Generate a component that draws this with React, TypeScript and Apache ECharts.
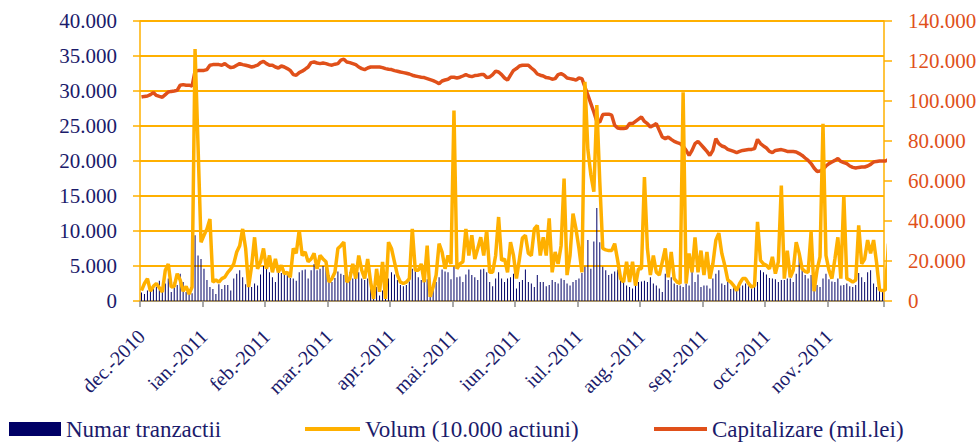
import React, { useEffect, useRef } from "react";
import * as echarts from "echarts";

// Tick labels (one per month, a tick every 21 trading days)
const monthLabels = [
  "dec.-2010", "ian.-2011", "feb.-2011", "mar.-2011", "apr.-2011", "mai.-2011",
  "iun.-2011", "iul.-2011", "aug.-2011", "sep.-2011", "oct.-2011", "nov.-2011",
];
const monthStarts: [number, number][] = [
  [2010, 11], [2011, 0], [2011, 1], [2011, 2], [2011, 3], [2011, 4],
  [2011, 5], [2011, 6], [2011, 7], [2011, 8], [2011, 9], [2011, 10],
];
const closedDays = ["2010-12-01", "2011-04-25", "2011-06-13", "2011-08-15"];
const daysPerMonth = 21;

// Numar tranzactii (per trading day, grouped by month)
const numarTranzactii: number[][] = [
  [1200, 1000, 1500, 1500, 2200, 2000, 2900, 1800, 2500, 3200, 1300, 2700, 2300, 3900, 2700, 1300, 1300, 1100, 9400, 6500, 6000],
  [4600, 3000, 2000, 1700, 1000, 2400, 1700, 2300, 2300, 1500, 3200, 3900, 4400, 3400, 2400, 2000, 2000, 2500, 2200, 3800, 5000],
  [4600, 4100, 3400, 2700, 4100, 4000, 3900, 3800, 3300, 3200, 2900, 4100, 4400, 4500, 3200, 4400, 5300, 4400, 4600, 5000, 5200],
  [3700, 2700, 3300, 4200, 3900, 3700, 2700, 4100, 3200, 4100, 4100, 3200, 3000, 3200, 2500, 1500, 2000, 800, 1500, 2200, 3200],
  [4100, 3800, 3000, 2300, 2100, 2300, 2800, 4600, 5600, 3400, 3000, 2900, 3100, 2500, 2200, 2700, 3400, 4500, 4200, 4100, 3100],
  [4900, 3400, 3500, 2700, 3800, 4500, 3700, 3400, 3000, 4500, 4600, 4100, 2700, 2100, 3200, 4100, 3200, 2700, 3200, 3400, 3900],
  [1800, 2700, 3000, 4500, 2700, 2500, 2000, 3700, 2700, 2700, 2100, 2300, 3000, 2700, 2500, 3200, 3000, 2500, 2200, 2700, 3000],
  [3200, 4000, 4900, 8700, 4600, 8500, 13300, 8400, 4900, 4400, 3700, 3900, 4200, 4500, 3400, 2700, 2200, 2000, 1800, 2200, 2700],
  [2800, 2900, 2700, 3400, 2500, 2200, 1800, 1300, 3900, 3000, 3400, 2500, 2300, 2200, 2000, 2500, 2200, 4400, 2700, 3800, 2000],
  [2200, 2200, 1800, 3200, 3900, 4400, 2500, 2300, 2700, 1700, 2100, 1500, 2000, 2200, 2500, 2100, 1800, 2000, 2700, 4400, 4100],
  [3800, 3300, 3200, 3100, 2700, 3000, 3000, 3200, 3200, 2700, 3900, 7000, 4400, 3700, 3200, 3700, 2200, 2300, 2000, 3200, 3900],
  [3100, 2800, 2700, 3200, 2200, 2300, 2500, 2100, 2000, 2300, 4000, 3400, 2700, 4100, 4400, 2500, 2000, 1800, 1300, 1700, 2000],
];

// Volum (10.000 actiuni)
const volum: number[][] = [
  [1500, 2500, 3200, 1400, 2100, 2500, 1900, 1300, 4400, 5300, 2000, 2100, 3900, 3000, 1400, 2100, 1000, 2000, 36000, 22200, 8400],
  [9400, 10300, 11700, 2700, 3000, 2700, 3200, 3400, 4100, 4600, 5300, 7000, 7900, 10300, 7500, 2000, 5000, 9100, 4600, 5600, 7500],
  [4600, 6500, 4100, 6000, 4100, 5100, 3900, 4100, 3400, 7500, 6800, 10100, 6500, 7000, 5600, 6000, 6800, 4600, 6500, 6000, 5600],
  [2700, 3200, 4100, 7500, 7900, 8400, 2700, 3200, 5300, 3200, 6500, 4400, 3200, 6000, 2700, 300, 4600, 1300, 5600, 300, 8400],
  [7500, 5600, 3700, 2700, 2500, 2700, 3200, 10300, 4400, 4400, 5300, 2700, 7900, 600, 2000, 3700, 8200, 7000, 4600, 6500, 5300],
  [27200, 4600, 5300, 5600, 10300, 6500, 9400, 6000, 7500, 9100, 6500, 10100, 4100, 4100, 6500, 12000, 5800, 6000, 4100, 8400, 6500],
  [3200, 6000, 9000, 9400, 6800, 6500, 10300, 10800, 6500, 9100, 6500, 11800, 4100, 7000, 5300, 7900, 17500, 3700, 6500, 12500, 10300],
  [7500, 4100, 31300, 21600, 18000, 15600, 28000, 17000, 7500, 7300, 7200, 7200, 8200, 5800, 3200, 2700, 5600, 2700, 5600, 2200, 4600],
  [4600, 17700, 7500, 3700, 6500, 4100, 3700, 5600, 7500, 3400, 7000, 3200, 2700, 2500, 29800, 2500, 6800, 4100, 9100, 4100, 7200],
  [3700, 7000, 3200, 5300, 8700, 9700, 6800, 5100, 3000, 2700, 2200, 1500, 2500, 3200, 3200, 2500, 2000, 2200, 11300, 5800, 5300],
  [5100, 4600, 6300, 3900, 5600, 16500, 3200, 7200, 3400, 4400, 8400, 6800, 4600, 4200, 4100, 9900, 1400, 4400, 6300, 25300, 6500],
  [4400, 3200, 6000, 9100, 3200, 15100, 3200, 3000, 2700, 3000, 10800, 5300, 6000, 8700, 6800, 8700, 5500, 1600, 1500, 1600, 8200],
];

// Capitalizare (mil.lei)
const capitalizare: number[][] = [
  [102000, 102300, 102500, 103200, 104200, 102800, 102300, 101900, 103200, 104500, 104800, 105000, 105300, 107900, 108200, 107900, 107900, 107400, 114900, 115200, 115300],
  [115300, 115700, 117900, 118200, 118200, 118200, 117900, 118700, 117500, 116700, 117000, 117900, 118700, 118200, 117900, 117500, 117000, 117400, 117900, 119200, 119800],
  [118700, 117900, 117900, 117000, 116500, 117500, 117000, 116200, 115300, 113200, 112900, 114200, 114900, 115900, 117000, 119200, 119500, 119000, 118700, 119000, 118700],
  [118200, 117900, 118400, 118700, 120400, 120900, 119500, 119200, 118700, 118200, 117000, 116200, 115700, 116500, 117000, 117000, 117000, 117000, 116700, 116200, 115900],
  [115700, 115200, 114900, 114500, 114200, 113900, 113500, 112900, 112500, 112200, 111900, 111700, 111200, 110700, 110200, 109500, 108700, 110000, 110500, 110900, 111900],
  [111900, 111500, 111900, 112500, 113200, 112500, 112200, 112700, 112900, 113200, 113200, 111700, 112000, 113200, 114900, 114500, 113200, 111500, 110400, 112900, 115300],
  [116200, 117500, 117900, 117900, 117900, 116500, 115300, 113500, 112900, 112500, 111700, 111500, 110900, 111200, 113200, 113700, 112900, 111500, 111200, 110900, 110400],
  [111500, 111200, 107000, 102900, 98700, 94500, 89800, 89500, 93200, 93400, 93400, 92900, 87900, 86500, 86200, 86200, 86500, 88700, 88700, 89800, 90900],
  [92000, 89800, 88700, 87000, 87800, 88700, 85300, 82000, 81200, 82000, 80800, 79800, 79200, 78700, 77300, 75300, 72800, 75300, 78700, 79800, 78200],
  [76500, 74800, 72800, 75300, 81200, 78700, 77500, 77000, 75800, 75300, 74800, 74200, 74800, 75300, 75500, 75700, 75800, 76200, 80800, 78700, 77500],
  [76500, 74800, 74200, 75300, 75500, 75700, 75300, 74800, 74800, 74700, 74500, 73700, 72800, 71500, 70300, 68700, 66500, 64800, 65000, 65800, 67500],
  [68700, 69500, 70300, 71200, 69800, 69200, 68700, 67500, 66800, 66500, 66800, 67000, 67000, 67500, 68300, 69500, 69800, 70000, 70000, 70000, 70700],
];

const pad = (n: number) => (n < 10 ? "0" + n : "" + n);

function buildCategories() {
  const cats: string[] = [];
  const labelOf: Record<string, string> = {};
  monthStarts.forEach(([y, m], mi) => {
    const days: string[] = [];
    for (let d = 1; d <= 31 && days.length < daysPerMonth; d++) {
      const dt = new Date(y, m, d);
      if (dt.getMonth() !== m) break;
      const wd = dt.getDay();
      const key = `${y}-${pad(m + 1)}-${pad(d)}`;
      if (wd === 0 || wd === 6 || closedDays.includes(key)) continue;
      days.push(key);
    }
    days.forEach((k) => (labelOf[k] = monthLabels[mi]));
    cats.push(...days);
  });
  return { cats, labelOf };
}

const fmtThousands = (v: number) =>
  String(v).replace(/\B(?=(\d{3})+(?!\d))/g, ".");

const FONT = "Liberation Serif";
const NAVY = "#1b1b6b";
const RED = "#E0501A";
const AMBER = "#FFB000";

export default function App() {
  const ref = useRef<HTMLDivElement>(null);
  useEffect(() => {
    if (!ref.current) return;
    const chart = echarts.init(ref.current, undefined, { renderer: "svg" });
    const { cats, labelOf } = buildCategories();
    const bars = numarTranzactii.flat();
    const vol = volum.flat();
    const cap = capitalizare.flat();
    const legendText = { fontFamily: FONT, fontSize: 23, color: NAVY, lineHeight: 24 };

    chart.setOption({
      animation: false,
      backgroundColor: "#ffffff",
      grid: { left: 140, right: 96, top: 21, bottom: 141, containLabel: false },
      legend: [
        {
          data: [{ name: "Numar tranzactii", icon: "rect" }],
          left: 9, top: 417, padding: 0, itemWidth: 52, itemHeight: 14, selectedMode: false,
          textStyle: legendText,
        },
        {
          data: [{ name: "Volum (10.000 actiuni)", icon: "rect" }],
          left: 305, top: 417, padding: 0, itemWidth: 55, itemHeight: 4, selectedMode: false,
          textStyle: legendText,
        },
        {
          data: [{ name: "Capitalizare (mil.lei)", icon: "rect" }],
          left: 654, top: 417, padding: 0, itemWidth: 53, itemHeight: 4, selectedMode: false,
          textStyle: legendText,
        },
      ],
      xAxis: {
        type: "category",
        data: cats,
        boundaryGap: true,
        axisLine: { show: true, lineStyle: { color: "#8c8c8c", width: 1.5 } },
        axisTick: { show: true, interval: daysPerMonth - 1, length: 6, lineStyle: { color: "#8c8c8c", width: 1.5 } },
        axisLabel: {
          interval: daysPerMonth - 1,
          rotate: 45,
          margin: 32,
          fontFamily: FONT,
          fontSize: 20,
          color: NAVY,
          formatter: (v: string) => labelOf[v] || "",
        },
        splitLine: { show: false },
      },
      yAxis: [
        {
          type: "value",
          min: 0, max: 40000, interval: 5000,
          axisLine: { show: true, lineStyle: { color: AMBER, width: 1.5 } },
          axisTick: { show: true, length: 7, lineStyle: { color: AMBER, width: 1.5 } },
          splitLine: { show: true, lineStyle: { color: AMBER, width: 2 } },
          axisLabel: { margin: 23, fontFamily: FONT, fontSize: 21, color: NAVY, formatter: fmtThousands },
        },
        {
          type: "value",
          min: 0, max: 140000, interval: 20000,
          position: "right",
          axisLine: { show: true, lineStyle: { color: AMBER, width: 1.5 } },
          axisTick: { show: true, length: 8, lineStyle: { color: AMBER, width: 1.5 } },
          splitLine: { show: false },
          axisLabel: { margin: 24, fontFamily: FONT, fontSize: 21, color: RED, formatter: fmtThousands },
        },
      ],
      series: [
        {
          name: "Numar tranzactii",
          type: "bar",
          yAxisIndex: 0,
          data: bars,
          barWidth: 1,
          itemStyle: { color: "#000066" },
          z: 2,
        },
        {
          name: "Capitalizare (mil.lei)",
          type: "line",
          yAxisIndex: 1,
          data: cap,
          symbol: "none",
          lineStyle: { color: RED, width: 3.5 },
          itemStyle: { color: RED },
          z: 3,
        },
        {
          name: "Volum (10.000 actiuni)",
          type: "line",
          yAxisIndex: 0,
          data: vol,
          symbol: "none",
          lineStyle: { color: AMBER, width: 3.5 },
          itemStyle: { color: AMBER },
          z: 4,
        },
      ],
    });
    return () => chart.dispose();
  }, []);

  return (
    <div
      ref={ref}
      style={{ position: "fixed", left: 0, top: 0, width: 980, height: 442, background: "#fff" }}
    />
  );
}
